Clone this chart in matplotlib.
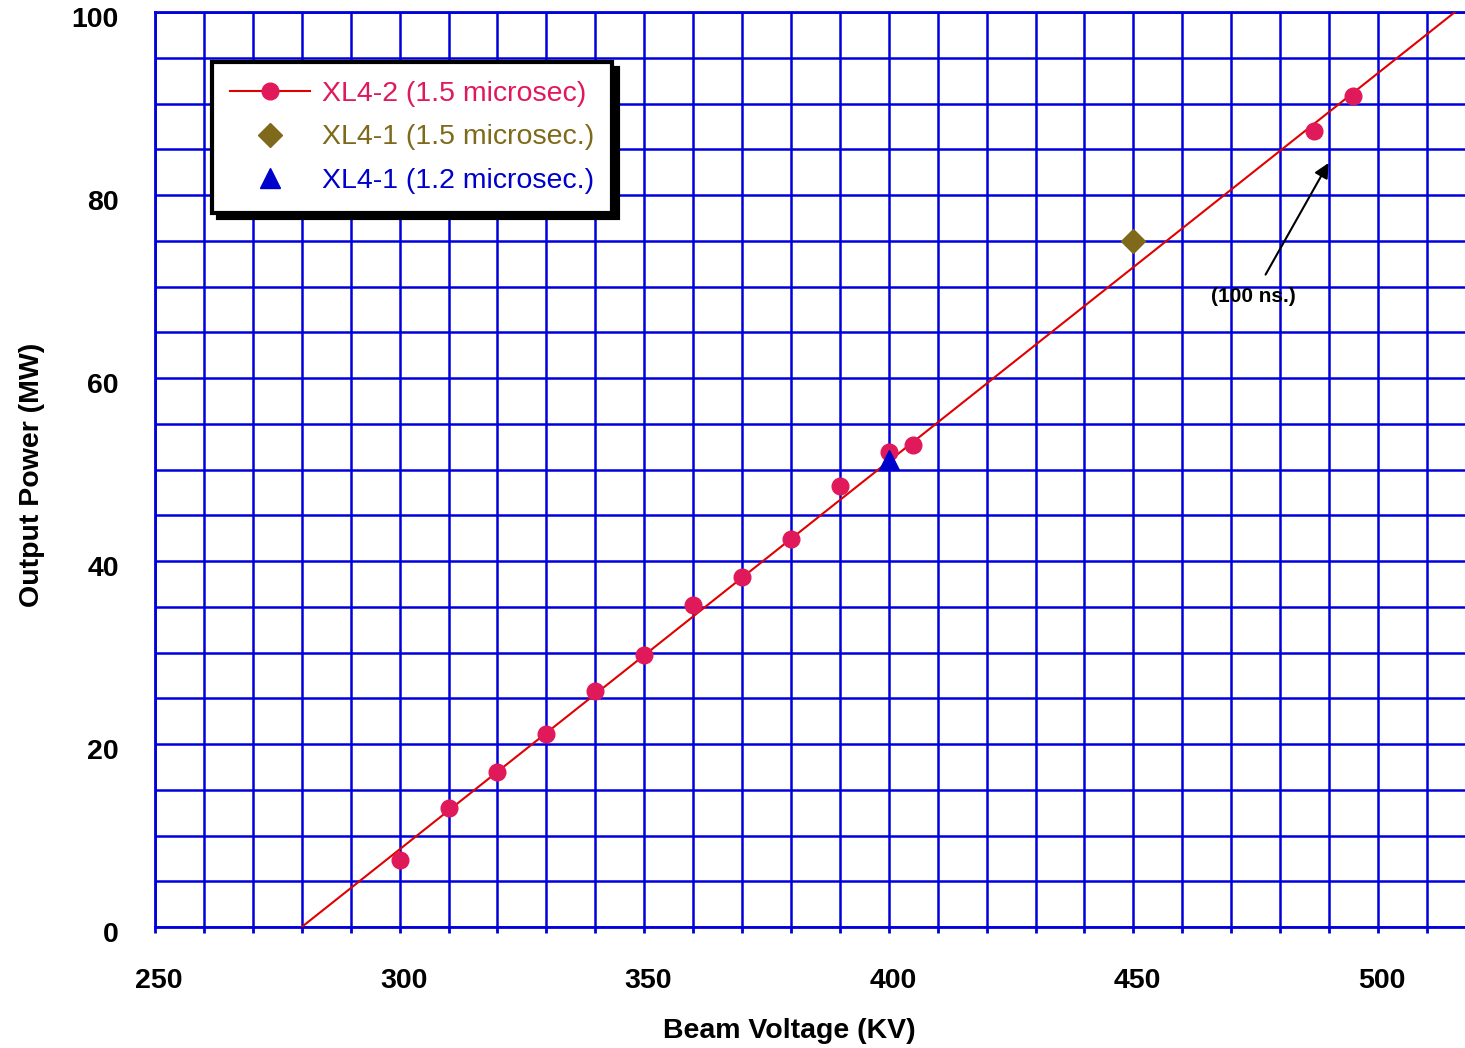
import matplotlib
matplotlib.use('Agg')
import matplotlib.pyplot as plt
import matplotlib.transforms as mtransforms
from matplotlib.lines import Line2D
from matplotlib.ticker import MultipleLocator

plt.rcParams['font.family'] = ['Liberation Sans', 'DejaVu Sans']

# Data
xl42_kv = [300, 310, 320, 330, 340, 350, 360, 370, 380, 390, 400, 405, 487, 495]
xl42_mw = [7.3, 13.0, 16.9, 21.1, 25.8, 29.7, 35.2, 38.3, 42.4, 48.2, 51.9, 52.7, 87.0, 90.8]
fit_kv = [280, 520]
fit_mw = [0, 101.8]
xl41_15_kv = [450]
xl41_15_mw = [75.0]
xl41_12_kv = [400]
xl41_12_mw = [51.0]
labels = ['XL4-2 (1.5 microsec)', 'XL4-1 (1.5 microsec.)', 'XL4-1 (1.2 microsec.)']

grid_blue = '#0000dd'
red_line = '#e00000'
pink = '#e0195a'
olive = '#7f6a1b'
blue = '#0000cc'

fig = plt.figure(figsize=(14.65, 10.48), dpi=100)
ax = fig.add_axes([155/1465, 121/1048, 1310/1465, 915/1048])

ax.plot(fit_kv, fit_mw, color=red_line, lw=1.5, zorder=3)
ax.plot(xl42_kv, xl42_mw, 'o', color=pink, ms=12, zorder=4)
ax.plot(xl41_15_kv, xl41_15_mw, 'D', color=olive, ms=12.5, zorder=4)
ax.plot(xl41_12_kv, xl41_12_mw, '^', color=blue, ms=15, zorder=5)

ax.set_xlim(250, 517.8)
ax.set_ylim(0, 100)
ax.xaxis.set_major_locator(MultipleLocator(50))
ax.xaxis.set_minor_locator(MultipleLocator(10))
ax.yaxis.set_major_locator(MultipleLocator(20))
ax.yaxis.set_minor_locator(MultipleLocator(5))
ax.grid(True, which='both', color=grid_blue, lw=1.8, zorder=1)
ax.set_axisbelow(True)

for s in ['left', 'bottom', 'top']:
    ax.spines[s].set_color(grid_blue)
    ax.spines[s].set_linewidth(2)
ax.spines['right'].set_visible(False)

ax.tick_params(axis='x', which='both', direction='out', length=4, width=2, color=grid_blue)
ax.tick_params(axis='y', which='both', length=0)
ax.tick_params(axis='x', which='major', pad=25.5, labelsize=20.5)
ax.tick_params(axis='y', which='major', pad=26, labelsize=20.5)
yshift = mtransforms.ScaledTranslation(0, -5/100, fig.dpi_scale_trans)
xshift = mtransforms.ScaledTranslation(4/100, 0, fig.dpi_scale_trans)
for lab in ax.get_xticklabels():
    lab.set_fontweight('bold')
    lab.set_transform(lab.get_transform() + xshift)
for lab in ax.get_yticklabels():
    lab.set_fontweight('bold')
    lab.set_transform(lab.get_transform() + yshift)

ax.set_xlabel('Beam Voltage (KV)', fontsize=20.5, fontweight='bold')
ax.set_ylabel('Output Power (MW)', fontsize=20.5, fontweight='bold')
ax.xaxis.set_label_coords(0.484, -0.0995)
ax.yaxis.set_label_coords(-0.084, 0.494)

ax.annotate('(100 ns.)', xy=(489.9, 83.5), xytext=(474.5, 68.9),
            ha='center', va='center', fontsize=15, fontweight='bold',
            arrowprops=dict(arrowstyle='-|>', color='black', lw=1.5,
                            mutation_scale=22, shrinkA=8, shrinkB=0))

handles = [
    Line2D([], [], color=red_line, lw=1.5, marker='o', ms=12, mfc=pink, mec=pink),
    Line2D([], [], ls='none', marker='D', ms=12.5, color=olive),
    Line2D([], [], ls='none', marker='^', ms=15, color=blue),
]
leg = ax.legend(handles, labels, loc='upper left', bbox_to_anchor=(0.0435, 0.945),
                borderaxespad=0, fontsize=20.5, handlelength=2.8, handletextpad=0.4,
                labelspacing=0.62, borderpad=0.65, fancybox=False, framealpha=1,
                edgecolor='black',
                shadow={'color': 'black', 'alpha': 1, 'ox': 4, 'oy': -4})
leg.get_frame().set_linewidth(3)
for txt, c in zip(leg.get_texts(), [pink, olive, blue]):
    txt.set_color(c)
leg.set_zorder(10)

fig.savefig('out.png', dpi=100)
